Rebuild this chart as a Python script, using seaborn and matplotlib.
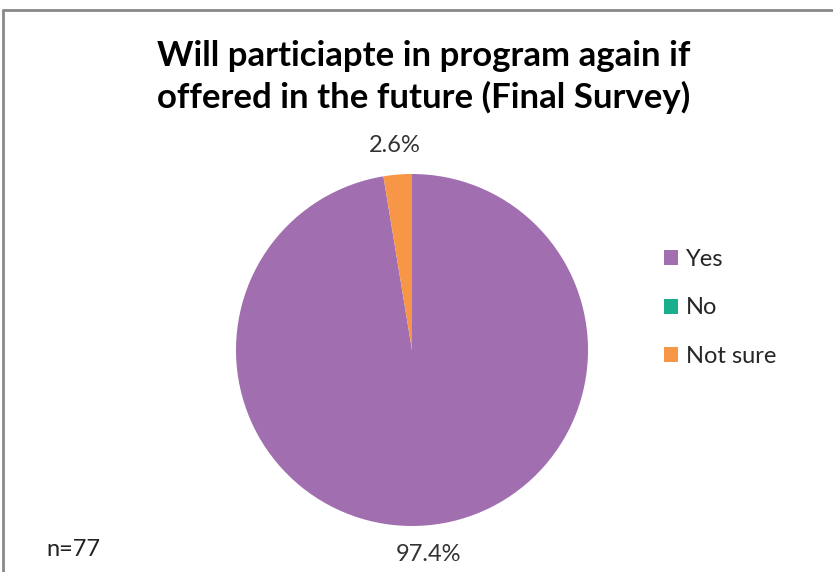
import matplotlib
matplotlib.use("Agg")
import matplotlib.pyplot as plt
from matplotlib.lines import Line2D
import seaborn as sns

# data
answers = ["Yes", "No", "Not sure"]
shares = [97.4, 0.0, 2.6]
colors = ["#A16EB0", "#1AAF8C", "#F79646"]
title = "Will particiapte in program again if\noffered in the future (Final Survey)"
note = "n=77"

sns.set_theme(style="white")
plt.rcParams['font.family'] = ['Lato', 'DejaVu Sans']

W, H = 833, 572
fig = plt.figure(figsize=(W / 100, H / 100), dpi=100)

# pie centred at (412, 350) px with radius 176 px
ax = fig.add_axes([236 / W, 46 / H, 352 / W, 352 / H])
wedges, _, pct = ax.pie(shares, colors=colors, startangle=90, counterclock=False,
                        autopct=lambda p: f"{p:.1f}%" if p > 0 else "",
                        pctdistance=1.165, radius=1,
                        wedgeprops=dict(linewidth=0),
                        textprops=dict(fontsize=17, color="#333333"))
ax.set_xlim(-1, 1)
ax.set_ylim(-1, 1)
ax.set_aspect("equal")
ax.axis("off")

ax.legend(wedges, answers, loc="upper left", bbox_to_anchor=(643 / W, 1 - 228 / H),
          bbox_transform=fig.transFigure, frameon=False, fontsize=17,
          handlelength=0.6, handleheight=0.6, handletextpad=0.3, labelspacing=1.15)

fig.text(424 / W, 1 - 77 / H, title, ha="center", va="center", fontsize=25,
         fontweight="bold", color="black", linespacing=1.3)
fig.text(73 / W, 1 - 549 / H, note, ha="center", va="center", fontsize=17,
         color="#222222")

# chart border (top and left edges visible)
fig.add_artist(Line2D([3 / W, 3 / W], [0, 1 - 10 / H], color="#898989", lw=2,
                      transform=fig.transFigure))
fig.add_artist(Line2D([3 / W, 1], [1 - 10 / H, 1 - 10 / H], color="#898989", lw=2,
                      transform=fig.transFigure))

fig.savefig("out.png", dpi=100, facecolor="white")
